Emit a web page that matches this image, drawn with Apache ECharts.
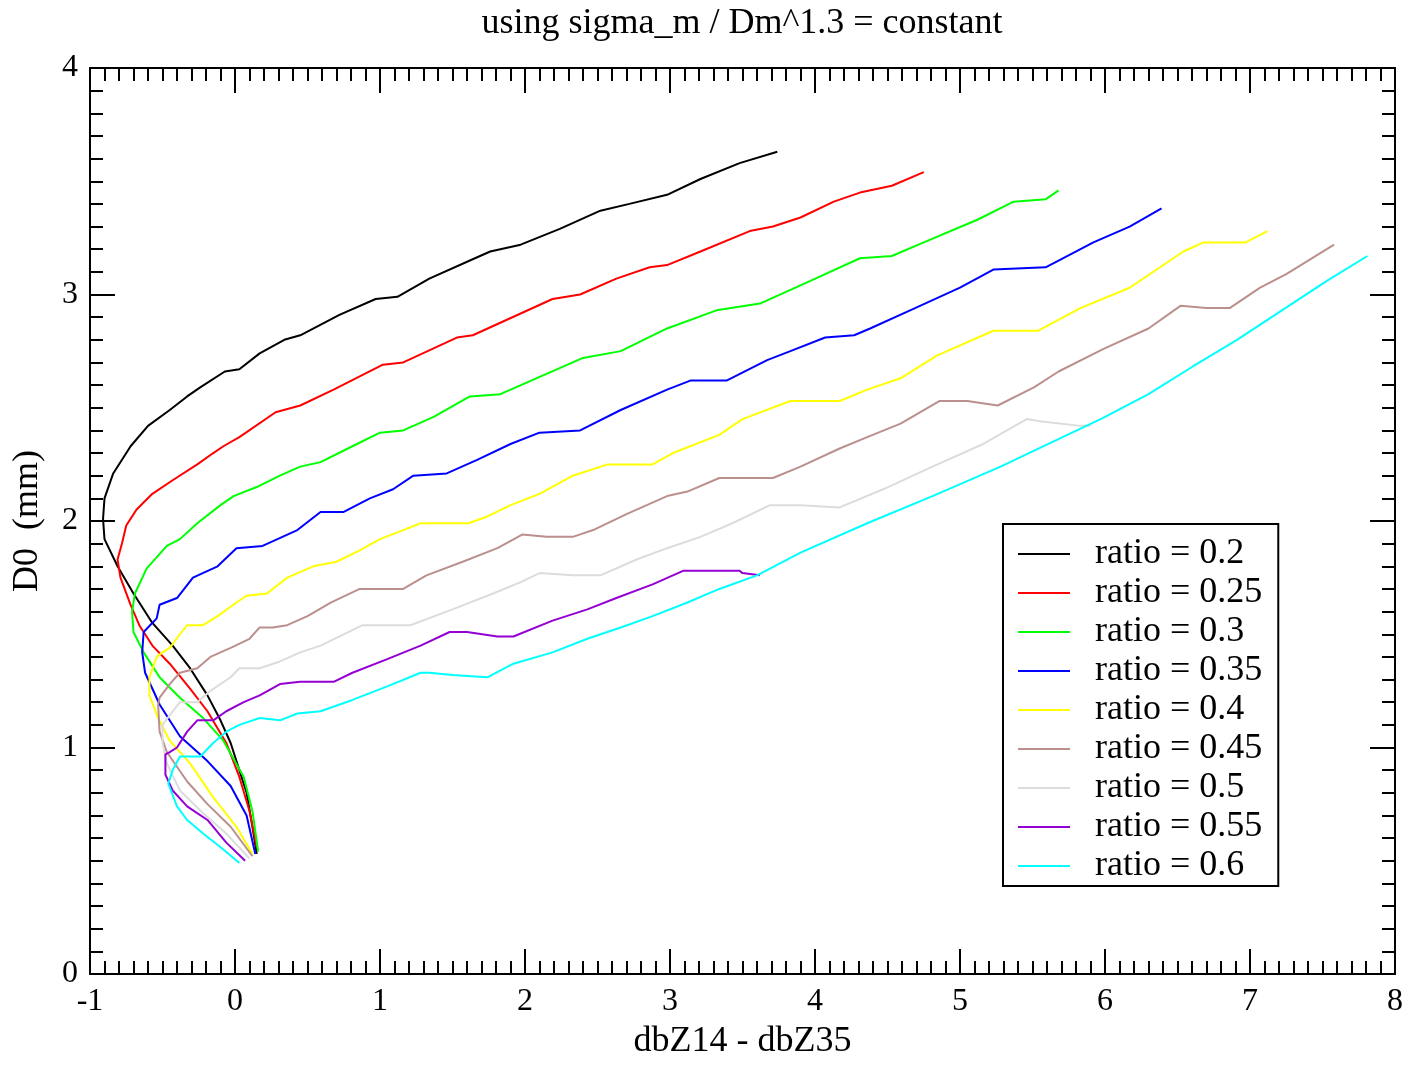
<!DOCTYPE html>
<html>
<head>
<meta charset="utf-8">
<script src="https://cdn.jsdelivr.net/npm/echarts@6/dist/echarts.min.js"></script>
<style>
html,body{margin:0;padding:0;background:#fff;}
#chart{width:1410px;height:1065px;}
</style>
</head>
<body>
<div id="chart"></div>
<script>
// ---- data (x = dbZ14 - dbZ35, y = D0 in mm) ----
var titleText = 'using sigma_m / Dm^1.3 = constant';
var xName = 'dbZ14 - dbZ35';
var yName = 'D0  (mm)';
var seriesNames = ['ratio = 0.2','ratio = 0.25','ratio = 0.3','ratio = 0.35','ratio = 0.4','ratio = 0.45','ratio = 0.5','ratio = 0.55','ratio = 0.6'];
var seriesColors = ['#000000','#ff0000','#00ff00','#0000ff','#ffff00','#bc8f8f','#dcdcdc','#9400d3','#00ffff'];

var r020 = [[0.15,0.53],[0.12,0.65],[0.08,0.80],[0.03,0.90],[-0.03,1.02],[-0.10,1.12],[-0.19,1.23],[-0.31,1.35],[-0.43,1.45],[-0.57,1.55],[-0.70,1.68],[-0.81,1.80],[-0.90,1.92],[-0.91,2.01],[-0.90,2.10],[-0.84,2.21],[-0.72,2.33],[-0.60,2.42],[-0.45,2.49],[-0.33,2.55],[-0.24,2.59],[-0.07,2.66],[0.03,2.67],[0.17,2.74],[0.34,2.80],[0.45,2.82],[0.72,2.91],[0.97,2.98],[1.12,2.99],[1.34,3.07],[1.62,3.15],[1.76,3.19],[1.97,3.22],[2.24,3.29],[2.52,3.37],[2.72,3.40],[2.98,3.44],[3.21,3.51],[3.48,3.58],[3.74,3.63]];
var r025 = [[0.15,0.56],[0.10,0.72],[0.03,0.87],[-0.06,1.02],[-0.19,1.16],[-0.31,1.26],[-0.45,1.37],[-0.57,1.45],[-0.66,1.54],[-0.72,1.63],[-0.79,1.75],[-0.81,1.83],[-0.78,1.90],[-0.75,1.98],[-0.68,2.05],[-0.57,2.12],[-0.43,2.18],[-0.26,2.25],[-0.15,2.30],[-0.08,2.33],[0.03,2.37],[0.28,2.48],[0.45,2.51],[0.68,2.58],[1.02,2.69],[1.16,2.70],[1.53,2.81],[1.64,2.82],[2.19,2.98],[2.38,3.00],[2.63,3.07],[2.86,3.12],[2.98,3.13],[3.21,3.19],[3.55,3.28],[3.71,3.30],[3.90,3.34],[4.13,3.41],[4.31,3.45],[4.53,3.48],[4.75,3.54]];
var r030 = [[0.16,0.54],[0.12,0.72],[0.06,0.87],[-0.08,1.03],[-0.22,1.13],[-0.38,1.22],[-0.52,1.31],[-0.63,1.42],[-0.70,1.51],[-0.71,1.60],[-0.69,1.68],[-0.61,1.79],[-0.47,1.89],[-0.38,1.92],[-0.26,1.99],[-0.10,2.07],[-0.01,2.11],[0.15,2.15],[0.31,2.20],[0.45,2.24],[0.59,2.26],[0.81,2.33],[1.00,2.39],[1.16,2.40],[1.37,2.46],[1.62,2.55],[1.83,2.56],[2.40,2.72],[2.66,2.75],[2.98,2.85],[3.32,2.93],[3.62,2.96],[3.90,3.04],[4.07,3.09],[4.31,3.16],[4.53,3.17],[4.75,3.23],[5.12,3.33],[5.37,3.41],[5.59,3.42],[5.68,3.46]];
var r035 = [[0.14,0.53],[0.08,0.70],[-0.03,0.83],[-0.19,0.94],[-0.38,1.05],[-0.52,1.19],[-0.62,1.33],[-0.64,1.42],[-0.63,1.51],[-0.54,1.57],[-0.52,1.63],[-0.40,1.66],[-0.29,1.75],[-0.12,1.80],[0.01,1.88],[0.19,1.89],[0.43,1.96],[0.59,2.04],[0.75,2.04],[0.93,2.10],[1.09,2.14],[1.23,2.20],[1.46,2.21],[1.67,2.27],[1.90,2.34],[2.10,2.39],[2.38,2.40],[2.66,2.49],[2.98,2.58],[3.14,2.62],[3.39,2.62],[3.67,2.71],[3.83,2.75],[4.07,2.81],[4.27,2.82],[4.38,2.85],[4.69,2.94],[5.00,3.03],[5.23,3.11],[5.59,3.12],[5.65,3.14],[5.92,3.23],[6.17,3.30],[6.39,3.38]];
var r040 = [[0.12,0.53],[0.01,0.65],[-0.15,0.78],[-0.31,0.93],[-0.45,1.03],[-0.53,1.13],[-0.59,1.23],[-0.59,1.31],[-0.54,1.40],[-0.50,1.42],[-0.45,1.44],[-0.38,1.50],[-0.33,1.54],[-0.22,1.54],[-0.12,1.58],[0.01,1.64],[0.08,1.67],[0.22,1.68],[0.36,1.75],[0.54,1.80],[0.70,1.82],[0.86,1.87],[1.00,1.92],[1.16,1.96],[1.28,1.99],[1.61,1.99],[1.74,2.02],[1.90,2.07],[2.10,2.12],[2.33,2.20],[2.57,2.25],[2.88,2.25],[3.02,2.30],[3.34,2.38],[3.50,2.45],[3.83,2.53],[4.17,2.53],[4.36,2.58],[4.59,2.63],[4.84,2.73],[5.23,2.84],[5.54,2.84],[5.83,2.94],[6.17,3.03],[6.54,3.19],[6.68,3.23],[6.97,3.23],[7.12,3.28]];
var r045 = [[0.12,0.52],[-0.03,0.65],[-0.19,0.75],[-0.33,0.85],[-0.47,0.98],[-0.52,1.07],[-0.53,1.19],[-0.52,1.22],[-0.45,1.28],[-0.38,1.33],[-0.26,1.35],[-0.17,1.40],[-0.03,1.44],[0.10,1.48],[0.17,1.53],[0.26,1.53],[0.36,1.54],[0.50,1.58],[0.66,1.64],[0.86,1.70],[1.16,1.70],[1.32,1.76],[1.57,1.82],[1.81,1.88],[1.98,1.94],[2.15,1.93],[2.33,1.93],[2.47,1.96],[2.70,2.03],[2.98,2.11],[3.12,2.13],[3.34,2.19],[3.71,2.19],[3.90,2.24],[4.17,2.32],[4.36,2.37],[4.59,2.43],[4.86,2.53],[5.05,2.53],[5.26,2.51],[5.51,2.59],[5.68,2.66],[5.99,2.76],[6.30,2.85],[6.52,2.95],[6.70,2.94],[6.86,2.94],[7.07,3.03],[7.25,3.09],[7.58,3.22]];
var r050 = [[0.10,0.51],[-0.06,0.62],[-0.22,0.71],[-0.38,0.81],[-0.47,0.93],[-0.50,1.02],[-0.50,1.10],[-0.43,1.16],[-0.38,1.20],[-0.26,1.20],[-0.17,1.25],[-0.03,1.31],[0.03,1.35],[0.17,1.35],[0.31,1.38],[0.45,1.42],[0.59,1.45],[0.88,1.54],[1.05,1.54],[1.21,1.54],[1.50,1.61],[1.78,1.68],[1.97,1.73],[2.10,1.77],[2.33,1.76],[2.52,1.76],[2.77,1.83],[2.98,1.88],[3.21,1.93],[3.43,1.99],[3.69,2.07],[3.90,2.07],[4.17,2.06],[4.47,2.14],[4.81,2.24],[5.16,2.34],[5.46,2.45],[5.55,2.44],[5.83,2.42],[5.90,2.42]];
var r055 = [[0.07,0.50],[-0.06,0.58],[-0.19,0.68],[-0.33,0.74],[-0.43,0.81],[-0.48,0.88],[-0.48,0.97],[-0.45,0.98],[-0.40,1.00],[-0.33,1.07],[-0.26,1.12],[-0.15,1.12],[-0.06,1.16],[0.06,1.20],[0.17,1.23],[0.31,1.28],[0.45,1.29],[0.68,1.29],[0.81,1.33],[1.05,1.39],[1.28,1.45],[1.48,1.51],[1.60,1.51],[1.81,1.49],[1.92,1.49],[2.19,1.56],[2.43,1.61],[2.63,1.66],[2.88,1.72],[3.09,1.78],[3.22,1.78],[3.48,1.78],[3.50,1.77],[3.62,1.76]];
var r060 = [[0.03,0.49],[-0.08,0.55],[-0.22,0.62],[-0.33,0.68],[-0.40,0.74],[-0.46,0.84],[-0.43,0.90],[-0.38,0.96],[-0.31,0.96],[-0.24,0.96],[-0.15,1.02],[-0.06,1.07],[0.03,1.10],[0.17,1.13],[0.31,1.12],[0.43,1.15],[0.59,1.16],[0.81,1.21],[1.05,1.27],[1.28,1.33],[1.34,1.33],[1.50,1.32],[1.74,1.31],[1.92,1.37],[2.19,1.42],[2.43,1.48],[2.66,1.53],[2.88,1.58],[3.12,1.64],[3.34,1.70],[3.60,1.76],[3.90,1.86],[4.36,1.99],[4.81,2.11],[5.28,2.24],[5.74,2.38],[5.97,2.45],[6.30,2.56],[6.60,2.68],[6.91,2.80],[7.22,2.93],[7.53,3.06],[7.81,3.17]];
var seriesData = [r020,r025,r030,r035,r040,r045,r050,r055,r060];

var xMin = -1, xMax = 8, xStep = 1;
var yMin = 0, yMax = 4, yStep = 1;

// ---- chart ----
var FONT = 'Liberation Serif, Times New Roman, serif';
var chart = echarts.init(document.getElementById('chart'), null, {renderer:'canvas'});

function axisCommon(showLabel){
  return {
    type:'value',
    axisLine:{show:true, onZero:false, lineStyle:{color:'#000', width:2}},
    axisTick:{show:true, inside:true, length:25, lineStyle:{color:'#000', width:2}},
    minorTick:{show:true, splitNumber:10, length:13, lineStyle:{color:'#000', width:2}},
    splitLine:{show:false},
    minorSplitLine:{show:false},
    axisLabel:{show:showLabel, color:'#000', fontFamily:FONT, fontSize:32, margin:12}
  };
}

var xBottom = Object.assign(axisCommon(true), {position:'bottom', min:xMin, max:xMax, interval:xStep,
  name:xName, nameLocation:'middle', nameGap:50, nameTextStyle:{color:'#000', fontFamily:FONT, fontSize:36}});
var xTop = Object.assign(axisCommon(false), {position:'top', min:xMin, max:xMax, interval:xStep});
var yLeft = Object.assign(axisCommon(true), {position:'left', min:yMin, max:yMax, interval:yStep,
  name:yName, nameLocation:'middle', nameGap:44, nameTextStyle:{color:'#000', fontFamily:FONT, fontSize:36}});
var yRight = Object.assign(axisCommon(false), {position:'right', min:yMin, max:yMax, interval:yStep});

var series = seriesData.map(function(d, i){
  return {
    name: seriesNames[i], type:'line', data:d,
    xAxisIndex:0, yAxisIndex:0,
    showSymbol:false, symbol:'none', smooth:false,
    lineStyle:{color:seriesColors[i], width:2},
    itemStyle:{color:seriesColors[i]},
    emphasis:{disabled:true},
    animation:false
  };
});

chart.setOption({
  animation:false,
  backgroundColor:'#fff',
  grid:{left:90, top:68, width:1305, height:914, containLabel:false},
  xAxis:[xBottom, xTop],
  yAxis:[yLeft, yRight],
  legend:{
    show:true, orient:'vertical', left:1003, top:524,
    padding:[12,16,2,15],
    itemGap:3, itemWidth:52, itemHeight:2, icon:'rect',
    borderColor:'#000', borderWidth:2, backgroundColor:'#fff',
    selectedMode:false,
    textStyle:{color:'#000', fontFamily:FONT, fontSize:36, lineHeight:36, padding:[0,0,0,20]},
    data:seriesNames
  },
  graphic:[{
    type:'text', x:742, y:24,
    style:{text:titleText, fill:'#000', font:'36px ' + FONT, align:'center', verticalAlign:'middle'}
  }],
  series:series
});
</script>
</body>
</html>
